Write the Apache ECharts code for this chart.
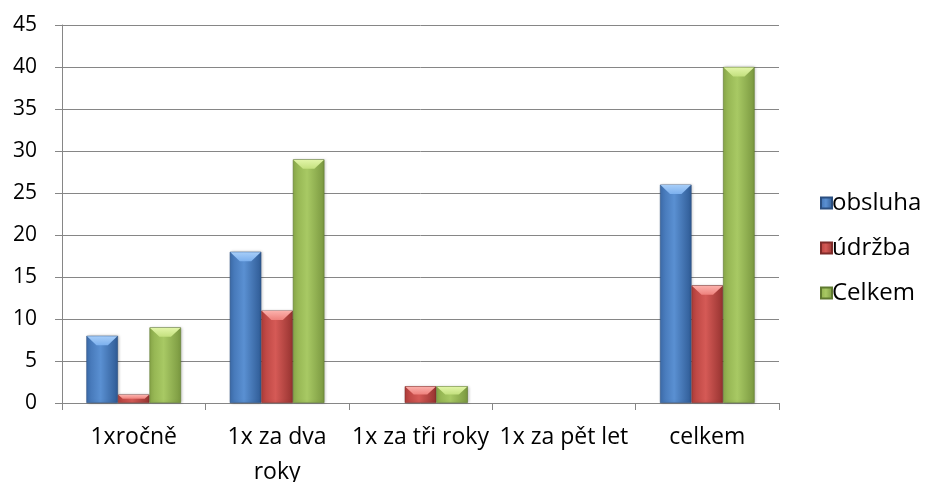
<!DOCTYPE html>
<html>
<head>
<meta charset="utf-8">
<script src="https://cdn.jsdelivr.net/npm/echarts@6/dist/echarts.min.js"></script>
<style>
  html, body { margin: 0; padding: 0; background: #fff; }
  #chart { width: 928px; height: 482px; }
</style>
</head>
<body>
<div id="chart"></div>
<script>
const categories = ['1xročně', '1x za dva\nroky', '1x za tři roky', '1x za pět let', 'celkem'];
const obsluha = [8, 18, 0, 0, 26];
const udrzba = [1, 11, 2, 0, 14];
const celkem = [9, 29, 2, 0, 40];
const seriesNames = ['obsluha', 'údržba', 'Celkem'];

const FONT = '"Open Sans", Lato, sans-serif';
const CATEGORY_GAP = 0.34;

// horizontal shading gives each bar a rounded, lit look
function shade(edge, mid, right) {
  return new echarts.graphic.LinearGradient(0, 0, 1, 0, [
    { offset: 0, color: edge },
    { offset: 0.45, color: mid },
    { offset: 1, color: right }
  ]);
}
const fills = [
  shade('#3f70b0', '#5a90d2', '#2f5b95'),
  shade('#b5403d', '#d55a56', '#963330'),
  shade('#8eae4c', '#a8c964', '#7a9840')
];
const bevelTop = ['#a6cdf8', '#fbb0ab', '#e2f5a8'];
const bevelBottom = ['#7cb0ee', '#ee817c', '#c3e07e'];
const borders = ['#2b4f80', '#7e2b29', '#5f7a30'];
const values = [obsluha, udrzba, celkem];

// empty categories draw nothing at all
function barData(vals) {
  return vals.map(v => v === 0
    ? { value: v, itemStyle: { opacity: 0, borderWidth: 0, shadowBlur: 0 } }
    : v);
}

// one row per category: [index, obsluha, údržba, Celkem]
const bevelRows = categories.map((c, k) => [k, obsluha[k], udrzba[k], celkem[k]]);

// light chamfer across the top of each bar
function renderBevel(params, api) {
  const k = api.value(0);
  const catW = api.size([1, 0])[0];
  const groupW = catW * (1 - CATEGORY_GAP);
  const barW = groupW / 3;
  const base = api.coord([k, 0]);
  const children = [];
  for (let s = 0; s < 3; s++) {
    const v = api.value(s + 1);
    if (!v) continue;
    const top = api.coord([k, v])[1];
    const h = base[1] - top;
    const b = Math.min(barW * 0.3, h * 0.5);
    const x0 = base[0] - groupW / 2 + s * barW + 0.6;
    const x1 = x0 + barW - 1.2;
    children.push({
      type: 'polygon',
      shape: { points: [[x0, top + 0.5], [x1, top + 0.5], [x1 - b, top + b], [x0 + b, top + b]] },
      style: {
        fill: new echarts.graphic.LinearGradient(0, 0, 0, 1, [
          { offset: 0, color: bevelTop[s] },
          { offset: 1, color: bevelBottom[s] }
        ])
      },
      silent: true
    });
  }
  return { type: 'group', children: children };
}

const chart = echarts.init(document.getElementById('chart'));
chart.setOption({
  animation: false,
  textStyle: { fontFamily: FONT },
  grid: { left: 62, right: 149, top: 25, bottom: 79, outerBoundsMode: 'none', containLabel: false },
  legend: {
    orient: 'vertical',
    left: 815,
    top: 186,
    itemWidth: 11,
    itemHeight: 11,
    itemGap: 21,
    icon: 'rect',
    textStyle: { fontSize: 24, color: '#000', fontFamily: FONT, padding: [0, 0, 0, -5] },
    data: seriesNames
  },
  xAxis: {
    type: 'category',
    data: categories,
    axisLine: { lineStyle: { color: '#868686', width: 1 } },
    axisTick: { show: true, length: 7, lineStyle: { color: '#868686' } },
    axisLabel: { fontSize: 23, color: '#000', margin: 17, lineHeight: 35, interval: 0 }
  },
  yAxis: {
    type: 'value',
    min: 0,
    max: 45,
    interval: 5,
    axisLine: { show: true, lineStyle: { color: '#868686', width: 1 } },
    axisTick: { show: true, length: 7, lineStyle: { color: '#868686' } },
    splitLine: { lineStyle: { color: '#868686', width: 1 } },
    axisLabel: { fontSize: 21, color: '#000', margin: 25 }
  },
  series: seriesNames.map((name, i) => ({
    name: name,
    type: 'bar',
    data: barData(values[i]),
    barGap: '0%',
    barCategoryGap: (CATEGORY_GAP * 100) + '%',
    itemStyle: {
      color: fills[i],
      borderColor: borders[i],
      borderWidth: 0.6,
      shadowColor: 'rgba(0,0,0,0.25)',
      shadowBlur: 3,
      shadowOffsetX: 1
    }
  })).concat([{
    type: 'custom',
    renderItem: renderBevel,
    data: bevelRows,
    encode: { x: 0, y: [1, 2, 3] },
    silent: true,
    z: 5
  }])
});
</script>
</body>
</html>
